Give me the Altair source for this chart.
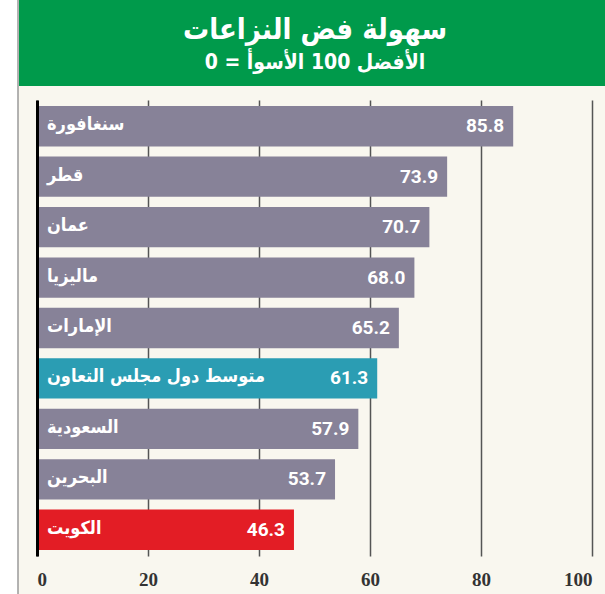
import altair as alt
import pandas as pd

countries = ["سنغافورة", "قطر", "عمان", "ماليزيا", "الإمارات",
             "متوسط دول مجلس التعاون", "السعودية", "البحرين", "الكويت"]
values = [85.8, 73.9, 70.7, 68.0, 65.2, 61.3, 57.9, 53.7, 46.3]
groups = ["other", "other", "other", "other", "other", "gcc", "other", "other", "kuwait"]
x_ticks = [0, 20, 40, 60, 80, 100]
title_text = "سهولة فض النزاعات"
subtitle_text = "\u202bالأفضل 100 الأسوأ = 0\u202c"

df = pd.DataFrame({"country": countries, "value": values, "group": groups})
one = pd.DataFrame({"k": [0]})

W, H = 555, 456
ARABIC_FONT = "DejaVu Sans Condensed, DejaVu Sans"

# decorations
white_strip = alt.Chart(one).mark_rect(color="white").encode(
    x=alt.value(-37), x2=alt.value(-19), y=alt.value(-100), y2=alt.value(H + 38))
border = alt.Chart(one).mark_rule(color="#9a9a9a", strokeWidth=1.5).encode(
    x=alt.value(-19), y=alt.value(-100), y2=alt.value(H + 38))
header = alt.Chart(one).mark_rect(color="#009a4b").encode(
    x=alt.value(-18), x2=alt.value(W + 13), y=alt.value(-100), y2=alt.value(-14))
title = alt.Chart(one).mark_text(
    text=title_text, color="white", font=ARABIC_FONT, fontWeight="bold",
    fontSize=29, align="center", baseline="middle").encode(
    x=alt.value(278), y=alt.value(-70))
subtitle = alt.Chart(one).mark_text(
    text=subtitle_text, color="white", font=ARABIC_FONT, fontWeight="bold",
    fontSize=21, align="center", baseline="middle").encode(
    x=alt.value(278), y=alt.value(-37))

xs = alt.X("value:Q", scale=alt.Scale(domain=[0, 100], nice=False),
           axis=alt.Axis(values=x_ticks, grid=True, gridColor="#555555", gridWidth=1.5,
                         domain=False, ticks=False, labelFont="Liberation Serif",
                         labelFontWeight="bold", labelFontSize=19, labelColor="#333333",
                         labelPadding=14, title=None, labelBaseline="top"))
ys = alt.Y("country:N", sort=countries,
           scale=alt.Scale(paddingInner=0.2, paddingOuter=0.12),
           axis=alt.Axis(labels=False, ticks=False, title=None, domain=True,
                         domainColor="black", domainWidth=3, grid=False, zindex=1))

bars = alt.Chart(df).mark_bar().encode(
    x=xs, y=ys,
    color=alt.Color("group:N", scale=alt.Scale(domain=["other", "gcc", "kuwait"],
                                               range=["#878298", "#2b9db3", "#e31d25"]),
                    legend=None))

names = alt.Chart(df).mark_text(
    align="left", baseline="middle", dx=10, dy=-1, color="white", font=ARABIC_FONT,
    fontWeight="bold", fontSize=18).encode(
    x=alt.value(0), y=alt.Y("country:N", sort=countries), text="country:N")

nums = alt.Chart(df).mark_text(
    align="right", baseline="middle", dx=-9, color="white", font="Roboto",
    fontWeight="bold", fontSize=19).encode(
    x="value:Q", y=alt.Y("country:N", sort=countries), text=alt.Text("value:Q", format=".1f"))

chart = alt.layer(white_strip, border, header, title, subtitle, bars, names, nums).properties(
    width=W, height=H,
    autosize=alt.AutoSizeParams(type="none"),
    padding={"left": 37, "top": 100, "right": 13, "bottom": 38},
    background="#f9f7ef",
).configure_view(stroke=None)

chart.save("out.html", embed_options={"renderer": "svg", "actions": False})
